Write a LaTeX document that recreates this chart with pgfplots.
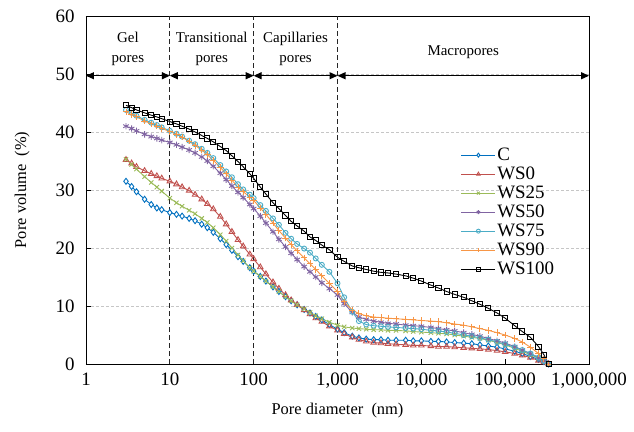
\documentclass[border=0pt]{standalone}
\usepackage{pgfplots}
\pgfplotsset{compat=1.18}
\usepackage{pgfplotstable}
\usepackage{fontspec}
\setmainfont{Liberation Serif}
\usetikzlibrary{arrows.meta}

\definecolor{cC}{RGB}{0,112,192}
\definecolor{cWSa}{RGB}{192,80,77}
\definecolor{cWSb}{RGB}{155,187,89}
\definecolor{cWSc}{RGB}{128,100,162}
\definecolor{cWSd}{RGB}{75,172,198}
\definecolor{cWSe}{RGB}{247,150,70}

% pore diameter (nm) vs cumulative pore volume (%)
\pgfplotstableread{
d       C    WS0  WS25 WS50 WS75 WS90 WS100
3       31.5 35.2 35.3 41.0 43.8 43.5 44.6
3.5     30.6 34.6 34.4 40.6 43.3 43.0 44.2
4       29.7 34.0 33.6 40.2 42.8 42.6 43.8
5       28.4 33.3 32.3 39.6 42.1 41.9 43.3
6       27.5 32.8 31.3 39.2 41.6 41.4 42.9
7       26.9 32.4 30.5 38.9 41.2 41.0 42.6
8       26.6 32.0 29.8 38.6 40.8 40.6 42.3
10      26.1 31.5 28.6 38.2 40.2 40.1 41.8
12      25.8 31.0 27.8 37.8 39.7 39.6 41.4
14      25.5 30.5 27.2 37.4 39.2 39.1 41.0
17      25.1 29.9 26.5 36.9 38.5 38.4 40.5
20      24.7 29.2 25.9 36.4 37.9 37.7 40.0
24      24.1 28.4 25.1 35.7 37.1 36.9 39.4
28      23.5 27.6 24.4 35.0 36.4 36.1 38.9
33      22.7 26.7 23.5 34.1 35.5 35.1 38.3
40      21.6 25.4 22.3 32.9 34.3 33.9 37.5
47      20.6 24.1 21.2 31.8 33.2 32.8 36.8
55      19.6 22.8 20.0 30.7 32.2 31.7 35.9
65      18.5 21.4 18.8 29.6 31.0 30.5 34.9
75      17.7 20.3 17.8 28.7 30.1 29.7 34.0
90      16.6 18.9 16.6 27.5 29.2 28.8 32.8
100     16.0 18.1 16.0 26.8 28.6 28.2 32.0
120     15.1 16.7 15.1 25.5 27.4 26.9 30.5
140     14.3 15.5 14.3 24.3 26.4 25.8 29.3
170     13.3 14.1 13.3 22.8 25.1 24.3 27.8
200     12.5 13.0 12.5 21.5 24.0 23.0 26.8
240     11.6 11.9 11.6 20.2 22.6 21.7 25.6
280     10.9 11.0 10.9 19.1 21.6 20.6 24.6
330     10.2 10.2 10.2 18.0 20.7 19.5 23.8
400      9.4  9.3  9.5 16.8 19.9 18.3 22.9
470      8.8  8.6  8.9 15.9 19.2 17.3 21.9
550      8.2  7.9  8.3 15.0 18.2 16.3 21.3
650      7.6  7.3  7.8 14.0 17.1 15.2 20.5
800      6.8  6.5  7.2 13.0 15.9 13.9 19.7
1000     6.0  5.8  6.7 11.9 13.9 12.5 18.4
1200     5.4  5.2  6.4 10.4 11.5 10.7 17.7
1500     4.8  4.6  6.2  8.9  9.0  9.3 16.9
1800     4.5  4.2  6.1  8.1  7.4  8.7 16.6
2200     4.3  3.9  6.0  7.7  6.8  8.3 16.3
2700     4.2  3.7  5.9  7.4  6.6  8.1 16.0
3300     4.2  3.6  5.9  7.2  6.5  8.0 15.8
4000     4.1  3.5  5.8  7.0  6.4  7.9 15.7
5000     4.1  3.4  5.8  6.9  6.3  7.8 15.5
6500     4.1  3.3  5.7  6.7  6.2  7.7 15.2
8000     4.0  3.2  5.6  6.6  6.1  7.6 14.8
10000    4.0  3.2  5.5  6.5  6.0  7.5 14.3
13000    3.9  3.1  5.4  6.3  5.8  7.4 13.6
16000    3.9  3.0  5.3  6.1  5.7  7.3 13.1
20000    3.8  3.0  5.2  5.9  5.5  7.1 12.5
25000    3.7  2.9  5.0  5.7  5.3  6.9 12.0
32000    3.6  2.8  4.8  5.4  5.0  6.7 11.5
40000    3.5  2.7  4.6  5.1  4.8  6.4 10.9
50000    3.3  2.6  4.4  4.8  4.5  6.1 10.3
63000    3.1  2.5  4.1  4.4  4.2  5.8  9.6
80000    2.9  2.3  3.7  4.0  3.8  5.4  8.8
100000   2.6  2.1  3.3  3.6  3.4  5.0  7.9
130000   2.2  1.8  2.7  3.0  2.9  4.4  6.6
160000   1.8  1.5  2.2  2.4  2.4  3.8  5.6
200000   1.3  1.1  1.6  1.8  1.8  2.9  4.6
250000   0.8  0.6  1.0  1.1  1.1  1.8  3.0
290000   0.4  0.3  0.5  0.5  0.5  0.9  1.6
330000   0    0    0    0    0    0    0
}\poredata

\begin{document}
\begin{tikzpicture}
\begin{axis}[
  name=ax,
  scale only axis,
  width=503bp, height=348bp,
  xmode=log, log basis x=10,
  xmin=1, xmax=1000000,
  ymin=0, ymax=60,
  clip=false,
  xtick={1,10,100,1000,10000,100000,1000000},
  xticklabels={1,10,100,{1,000},{10,000},{100,000},{1,000,000}},
  ytick={0,10,20,30,40,50,60},
  xminorticks=false,
  xtick pos=bottom, ytick pos=left,
  tick align=inside,
  major tick length=5bp,
  tick style={black, line width=0.8bp},
  axis line style={black, line width=0.8bp},
  ymajorgrids,
  major grid style={gray!45, dash pattern=on 3bp off 2bp, line width=0.8bp},
  /pgf/number format/assume math mode=true,
  tick label style={font=\fontsize{19}{21}\selectfont},
  xticklabel style={yshift=-5bp},
  yticklabel style={xshift=-8bp},
  xlabel={Pore diameter\ \ (nm)},
  ylabel={Pore volume\ \ (\%)},
  label style={font=\fontsize{16.5}{18}\selectfont},
  xlabel style={at={(axis description cs:0.5,-0.133)}, anchor=center},
  ylabel style={at={(axis description cs:-0.127,0.5)}, anchor=center},
  legend style={at={(rel axis cs:0.745,0.628)}, anchor=north west,
    draw=none, fill=none, inner sep=0pt,
    font=\fontsize{19}{19}\selectfont,
    nodes={inner sep=1.5bp, text height=13bp, text depth=3bp}},
  legend cell align=left,
  legend image code/.code={\draw[mark repeat=2,mark phase=2, mark size=2bp] plot coordinates {(0bp,0bp)(17bp,0bp)(34bp,0bp)};},
  every axis plot/.append style={line width=0.9bp, mark size=2.8bp},
]
\addplot[cC, mark=diamond*, mark size=3bp, mark options={fill=white, solid}] table[x=d, y=C] {\poredata};
\addlegendentry{C}
\addplot[cWSa, mark=triangle, mark size=3.2bp, mark options={fill=white}] table[x=d, y=WS0] {\poredata};
\addlegendentry{WS0}
\addplot[cWSb, mark=x, mark size=3bp] table[x=d, y=WS25] {\poredata};
\addlegendentry{WS25}
\addplot[cWSc, mark=asterisk, mark size=3.2bp] table[x=d, y=WS50] {\poredata};
\addlegendentry{WS50}
\addplot[cWSd, mark=o, mark size=2.5bp] table[x=d, y=WS75] {\poredata};
\addlegendentry{WS75}
\addplot[cWSe, mark=+, mark size=3.2bp] table[x=d, y=WS90] {\poredata};
\addlegendentry{WS90}
\addplot[black, mark=square, mark size=2.6bp] table[x=d, y=WS100] {\poredata};
\addlegendentry{WS100}

% pore class boundaries
\draw[black!85, line width=1.2bp, dash pattern=on 5bp off 3bp] (axis cs:10,0) -- (axis cs:10,60);
\draw[black!85, line width=1.2bp, dash pattern=on 5bp off 3bp] (axis cs:100,0) -- (axis cs:100,60);
\draw[black!85, line width=1.2bp, dash pattern=on 5bp off 3bp] (axis cs:1000,0) -- (axis cs:1000,60);

\draw[{Triangle[length=8bp,width=7bp]}-{Triangle[length=8bp,width=7bp]}, line width=1.3bp] (axis cs:1,49.7) -- (axis cs:10,49.7);
\draw[{Triangle[length=8bp,width=7bp]}-{Triangle[length=8bp,width=7bp]}, line width=1.3bp] (axis cs:10,49.7) -- (axis cs:100,49.7);
\draw[{Triangle[length=8bp,width=7bp]}-{Triangle[length=8bp,width=7bp]}, line width=1.3bp] (axis cs:100,49.7) -- (axis cs:1000,49.7);
\draw[{Triangle[length=8bp,width=7bp]}-{Triangle[length=8bp,width=7bp]}, line width=1.3bp] (axis cs:1000,49.7) -- (axis cs:1000000,49.7);

\path[font=\fontsize{15}{20}\selectfont, align=center]
  (axis cs:3.16,54.4) node {Gel\\pores}
  (axis cs:31.6,54.4) node {Transitional\\pores}
  (axis cs:316,54.4) node {Capillaries\\pores}
  (axis cs:31623,53.7) node {Macropores};
\end{axis}
\pgfresetboundingbox
\useasboundingbox ([shift={(-86bp,-68bp)}]ax.south west) rectangle ([shift={(45bp,16bp)}]ax.north east);
\end{tikzpicture}
\end{document}
